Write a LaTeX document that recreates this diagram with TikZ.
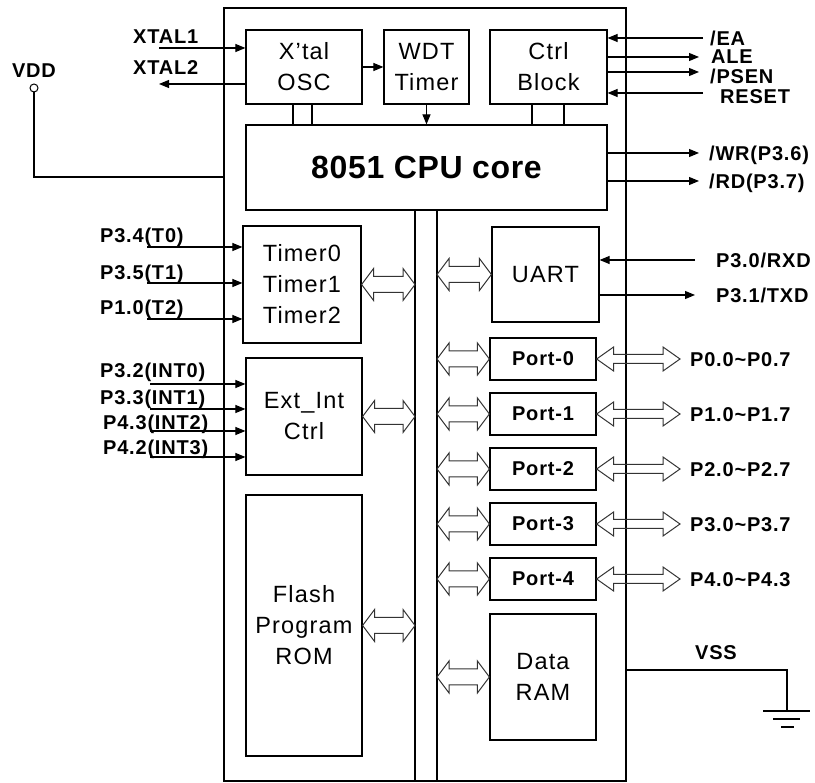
\documentclass[tikz,border=0pt]{standalone}
\usepackage{fontspec}
\setmainfont{Liberation Sans}
\newfontfamily\lblfont[LetterSpace=4]{Liberation Sans}
\newfontfamily\blkfont[LetterSpace=5]{Liberation Sans}
\newfontfamily\cpufont[LetterSpace=2]{Liberation Sans}
\usetikzlibrary{calc,arrows.meta}

\tikzset{
  blk/.style={draw, line width=1.2pt, inner sep=0pt, align=center, font=\blkfont\fontsize{23.5}{31}\selectfont},
  lbl/.style={inner sep=0pt, anchor=west, text height=14.3pt, text depth=0pt, font=\lblfont\bfseries\fontsize{20}{22}\selectfont},
  wire/.style={line width=1.1pt},
  sig/.style={wire, -{Triangle[length=10pt,width=8pt]}},
  arr/.style={line width=1pt, draw=black!80}
}

% hollow double arrow: from, to, half head, half shaft, head length
\newcommand{\busarr}[5]{%
  \draw[arr] let \p1=(#1), \p2=(#2) in
    (\x1,\y1) -- ++(#5,#3) -- ++(0pt,#4-#3) -- (\x2-#5,\y1+#4) -- ++(0pt,#3-#4)
    -- (\x2,\y1) -- ++(-#5,-#3) -- ++(0pt,#3-#4) -- (\x1+#5,\y1-#4) -- ++(0pt,#4-#3) -- cycle;}

\begin{document}
\begin{tikzpicture}[x=1pt, y=-1pt]
  \useasboundingbox (0,0) rectangle (815,783);

  % chip and blocks
  \node[blk, minimum width=402pt, minimum height=773pt] (chip) at (425,394.5) {};
  \node[blk, minimum width=116pt, minimum height=74pt] (osc) at (304,67) {X’tal\\OSC};
  \node[blk, minimum width=85pt, minimum height=74pt] (wdt) at (426.5,67) {WDT\\Timer};
  \node[blk, minimum width=117pt, minimum height=74pt] (ctrl) at (548.5,67) {Ctrl\\Block};
  \node[blk, minimum width=361pt, minimum height=85pt, font=\cpufont\bfseries\fontsize{32}{36}\selectfont] (cpu) at (426.5,167.5) {8051 CPU core};
  \node[blk, minimum width=118pt, minimum height=117pt] (tmr) at (302,284.5) {Timer0\\Timer1\\Timer2};
  \node[blk, minimum width=116pt, minimum height=117pt] (ext) at (304,416.5) {Ext\_Int\\Ctrl};
  \node[blk, minimum width=116pt, minimum height=261pt] (rom) at (304,625.5) {Flash\\Program\\ROM};
  \node[blk, minimum width=107pt, minimum height=95pt] (uart) at (545.5,274.5) {UART};
  \node[blk, minimum width=106pt, minimum height=126pt] (ram) at (543,677) {Data\\RAM};

  % internal bus
  \coordinate (busL) at (415,781);
  \coordinate (busR) at (437,781);
  \draw[wire] (busL) -- (busL |- cpu.south);
  \draw[wire] (busR) -- (busR |- cpu.south);

  \foreach \x in {293,312} \draw[wire] (osc.south -| \x,0) -- (cpu.north -| \x,0);
  \foreach \x in {532,564} \draw[wire] (ctrl.south -| \x,0) -- (cpu.north -| \x,0);
  \draw[sig] (osc.east) -- (wdt.west);
  \draw[sig] (wdt.south) -- (cpu.north -| wdt.south);

  \busarr{tmr.east}{tmr.east -| busL}{16pt}{8pt}{12pt}
  \busarr{ext.east}{ext.east -| busL}{16pt}{8pt}{12pt}
  \busarr{rom.east}{rom.east -| busL}{16pt}{8pt}{12pt}
  \busarr{uart.west -| busR}{uart.west}{16pt}{8pt}{12pt}
  \busarr{ram.west -| busR}{ram.west}{16pt}{8pt}{12pt}

  % ports
  \foreach \i/\y/\a/\b in {0/359/P0.0/P0.7,1/414/P1.0/P1.7,2/469/P2.0/P2.7,3/524/P3.0/P3.7,4/579/P4.0/P4.3} {
    \node[blk, minimum width=106pt, minimum height=42pt, font=\lblfont\bfseries\fontsize{20}{22}\selectfont] (port\i) at (543,\y) {Port-\i};
    \coordinate (pin\i) at (680,\y);
    \node[lbl] at (690,\y) {\a\textasciitilde\b};
    \busarr{port\i.east}{pin\i}{12pt}{4.5pt}{17pt}
    \busarr{port\i.west -| busR}{port\i.west}{16pt}{8pt}{12pt}
  }

  % clock
  \coordinate (xa) at (159,48);
  \coordinate (xb) at (159,84);
  \draw[sig] (xa) -- (osc.west |- xa);
  \draw[sig] (osc.west |- xb) -- (xb);
  \node[lbl] at (133,36) {XTAL1};
  \node[lbl] at (133,67) {XTAL2};

  % supply
  \node[lbl, anchor=center] at (34,70) {VDD};
  \node[circle, draw, line width=1pt, inner sep=0pt, minimum size=8pt] (vdd) at (34,88) {};
  \draw[wire] (vdd.south) |- (chip.west |- 0,177);
  \node[lbl] at (695,652) {VSS};
  \coordinate (gnd) at (787,711);
  \draw[wire] (chip.east |- 0,670) -| (gnd);
  \draw[wire] (gnd) ++(-24,0) -- ++(47,0) (gnd) ++(-14,8) -- ++(27,0) (gnd) ++(-6,16) -- ++(13,0);

  % control pins
  \coordinate (ea) at (703,38);
  \coordinate (ale) at (699,57);
  \coordinate (psen) at (699,72);
  \coordinate (rst) at (703,93);
  \draw[sig] (ea) -- (ctrl.east |- ea);
  \draw[sig] (ctrl.east |- ale) -- (ale);
  \draw[sig] (ctrl.east |- psen) -- (psen);
  \draw[sig] (rst) -- (ctrl.east |- rst);
  \node[lbl] at (710,38) {/EA};
  \node[lbl] at (711,56) {ALE};
  \node[lbl] at (710,76) {/PSEN};
  \node[lbl] at (720,96) {RESET};

  \coordinate (wr) at (699,153);
  \coordinate (rd) at (699,181);
  \draw[sig] (cpu.east |- wr) -- (wr);
  \draw[sig] (cpu.east |- rd) -- (rd);
  \node[lbl] at (709,153) {/WR(P3.6)};
  \node[lbl] at (709,181) {/RD(P3.7)};

  % serial
  \coordinate (rxd) at (695,260);
  \coordinate (txd) at (695,295);
  \draw[sig] (rxd) -- (uart.east |- rxd);
  \draw[sig] (uart.east |- txd) -- (txd);
  \node[lbl] at (716,260) {P3.0/RXD};
  \node[lbl] at (716,295) {P3.1/TXD};

  % timer and interrupt inputs
  \foreach \y/\t/\ly in {247/{P3.4(T0)}/235, 283/{P3.5(T1)}/272, 319/{P1.0(T2)}/307} {
    \coordinate (tin) at (147,\y);
    \draw[sig] (tin) -- (tmr.west |- tin);
    \node[lbl] at (100,\ly) {\t};
  }
  \foreach \y/\t/\lx/\ly in {384/{P3.2(INT0)}/100/370, 409/{P3.3(INT1)}/100/397, 431/{P4.3(INT2)}/103/422, 457/{P4.2(INT3)}/103/447} {
    \coordinate (iin) at (150,\y);
    \draw[sig] (iin) -- (ext.west |- iin);
    \node[lbl] at (\lx,\ly) {\t};
  }
\end{tikzpicture}
\end{document}
